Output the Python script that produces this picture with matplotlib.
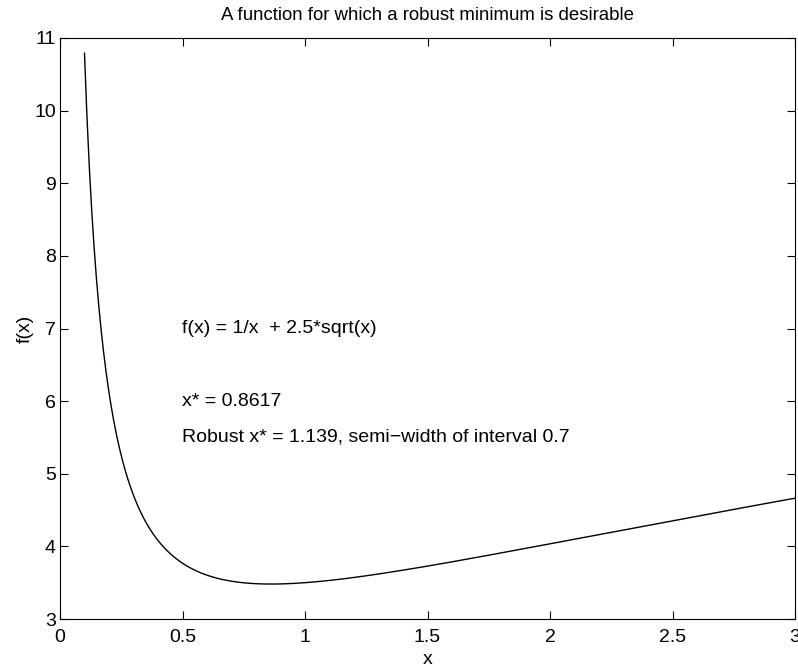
import numpy as np
import matplotlib.pyplot as plt

plt.rcParams['font.family'] = ['Liberation Sans', 'DejaVu Sans']

# sample points along x, curve taken from the formula written on the plot
x = np.linspace(0.1, 3.0, 300)
f = 1.0 / x + 2.5 * np.sqrt(x)

xticks = [0, 0.5, 1, 1.5, 2, 2.5, 3]
xticklabels = ['0', '0.5', '1', '1.5', '2', '2.5', '3']
yticks = [3, 4, 5, 6, 7, 8, 9, 10, 11]

notes = ['f(x) = 1/x  + 2.5*sqrt(x)', 'x* = 0.8617',
         'Robust x* = 1.139, semi\u2212width of interval 0.7']
note_y = [7, 6, 5.5]

fig = plt.figure(figsize=(7.98, 6.67), dpi=100)
ax = fig.add_axes([60 / 798, 1 - 619 / 667, 735 / 798, 581 / 667])

ax.plot(x, f, color='black', linewidth=1.0)

for txt, ty in zip(notes, note_y):
    ax.text(0.5, ty, txt, fontsize=14, va='center', ha='left')

ax.set_xlim(0, 3)
ax.set_ylim(3, 11)
ax.set_xticks(xticks)
ax.set_xticklabels(xticklabels)
ax.set_yticks(yticks)
ax.tick_params(direction='in', top=True, right=True, length=6, width=0.8,
               labelsize=14)
ax.tick_params(axis='x', pad=7.5)
ax.tick_params(axis='y', pad=3)
for s in ax.spines.values():
    s.set_linewidth(0.8)

ax.set_xlabel('x', fontsize=14, labelpad=3)
ax.set_ylabel('f(x)', fontsize=14, labelpad=0)
ax.set_title('A function for which a robust minimum is desirable',
             fontsize=13.4, pad=13)

fig.savefig('out.png', dpi=100)
